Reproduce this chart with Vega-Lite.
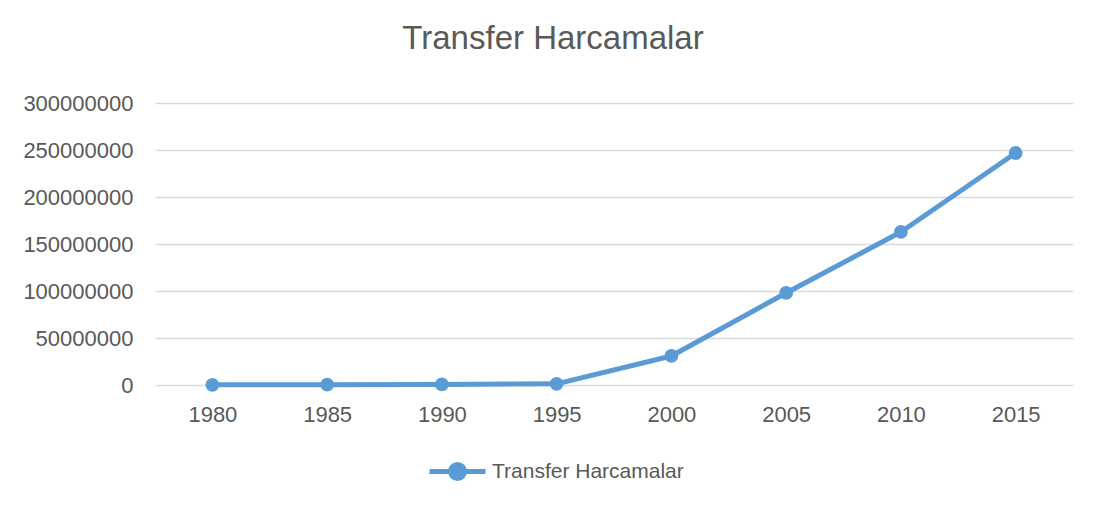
{
  "$schema": "https://vega.github.io/schema/vega-lite/v6.json",
  "width": 918,
  "height": 282,
  "autosize": {"type": "none"},
  "padding": {"left": 155, "top": 103, "right": 30, "bottom": 121},
  "background": "white",
  "title": {
    "text": "Transfer Harcamalar",
    "anchor": "middle",
    "frame": "group",
    "dx": -61,
    "offset": 36,
    "font": "Liberation Sans",
    "fontSize": 33,
    "fontWeight": "normal",
    "color": "#595959"
  },
  "data": {
    "values": [
      {"year": "1980", "value": 200000, "series": "Transfer Harcamalar"},
      {"year": "1985", "value": 300000, "series": "Transfer Harcamalar"},
      {"year": "1990", "value": 600000, "series": "Transfer Harcamalar"},
      {"year": "1995", "value": 1200000, "series": "Transfer Harcamalar"},
      {"year": "2000", "value": 30900000, "series": "Transfer Harcamalar"},
      {"year": "2005", "value": 97900000, "series": "Transfer Harcamalar"},
      {"year": "2010", "value": 162800000, "series": "Transfer Harcamalar"},
      {"year": "2015", "value": 246800000, "series": "Transfer Harcamalar"}
    ]
  },
  "config": {
    "view": {"stroke": null},
    "font": "Liberation Sans",
    "axis": {
      "labelFont": "Liberation Sans",
      "labelFontSize": 22,
      "labelColor": "#595959",
      "gridColor": "#d9d9d9",
      "gridWidth": 1.5,
      "ticks": false,
      "title": null
    }
  },
  "encoding": {
    "x": {
      "field": "year",
      "type": "ordinal",
      "scale": {"paddingInner": 0, "paddingOuter": 0},
      "axis": {"labelAngle": 0, "labelPadding": 19, "grid": false, "domain": false}
    },
    "y": {
      "field": "value",
      "type": "quantitative",
      "scale": {"domain": [0, 300000000], "nice": false},
      "axis": {
        "values": [0, 50000000, 100000000, 150000000, 200000000, 250000000, 300000000],
        "format": "d",
        "labelPadding": 22,
        "domain": false,
        "grid": true
      }
    },
    "color": {
      "field": "series",
      "type": "nominal",
      "scale": {"range": ["#5b9bd5"]},
      "legend": {
        "title": null,
        "orient": "none",
        "legendX": 272,
        "legendY": 338,
        "direction": "horizontal",
        "labelFont": "Liberation Sans",
        "labelFontSize": 21,
        "labelColor": "#595959",
        "labelOffset": 4,
        "labelLimit": 0,
        "symbolType": "M-1,0L1,0M0.25,0A0.25,0.25,0,1,1,-0.25,0A0.25,0.25,0,1,1,0.25,0Z",
        "symbolSize": 3136,
        "symbolStrokeWidth": 5,
        "symbolFillColor": "#5b9bd5",
        "symbolStrokeColor": "#5b9bd5"
      }
    }
  },
  "layer": [
    {"mark": {"type": "line", "strokeWidth": 5, "strokeCap": "round", "strokeJoin": "round"}},
    {"mark": {"type": "point", "filled": true, "size": 190, "opacity": 1}}
  ]
}
